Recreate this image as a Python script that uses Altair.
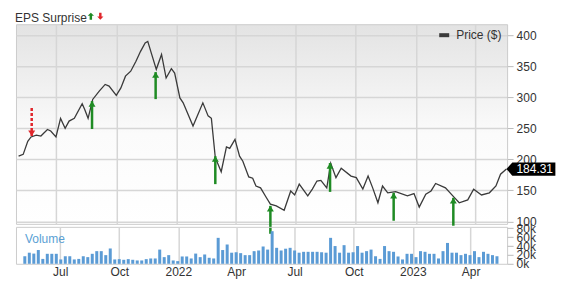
import altair as alt
import pandas as pd

# ---------------- data ----------------
price_dates = [
    "2021-05-05", "2021-05-12", "2021-05-19", "2021-05-24", "2021-06-01", "2021-06-08", "2021-06-18", "2021-06-23", "2021-07-01", "2021-07-08",
    "2021-07-15", "2021-07-21", "2021-07-29", "2021-08-10", "2021-08-14", "2021-08-19", "2021-08-26", "2021-09-05", "2021-09-14", "2021-09-20",
    "2021-10-01", "2021-10-08", "2021-10-15", "2021-10-23", "2021-10-31", "2021-11-07", "2021-11-14", "2021-11-18", "2021-11-24", "2021-12-01",
    "2021-12-09", "2021-12-16", "2021-12-24", "2021-12-29", "2022-01-06", "2022-01-11", "2022-01-26", "2022-02-10", "2022-02-18", "2022-02-23",
    "2022-03-01", "2022-03-10", "2022-03-18", "2022-03-23", "2022-03-31", "2022-04-07", "2022-04-12", "2022-04-21", "2022-04-27", "2022-05-02",
    "2022-05-09", "2022-05-18", "2022-05-24", "2022-06-02", "2022-06-14", "2022-06-24", "2022-06-30", "2022-07-07", "2022-07-20", "2022-07-27",
    "2022-08-03", "2022-08-09", "2022-08-18", "2022-08-24", "2022-09-01", "2022-09-09", "2022-09-24", "2022-10-02", "2022-10-12", "2022-10-20",
    "2022-10-27", "2022-11-04", "2022-11-11", "2022-11-19", "2022-12-01", "2022-12-19", "2022-12-29", "2023-01-06", "2023-01-16", "2023-01-24",
    "2023-01-31", "2023-02-15", "2023-02-28", "2023-03-08", "2023-03-21", "2023-03-30", "2023-04-11", "2023-04-23", "2023-05-03", "2023-05-10",
    "2023-05-19",
]
price_values = [
    205, 208, 229, 236, 239, 237.5, 248, 245.6, 236, 266,
    250, 261.6, 266, 289.5, 280, 266, 296.5, 310, 320.7, 318,
    303, 315, 334, 342, 358, 374, 387.6, 390, 369, 345,
    369, 331, 346, 339, 299, 291, 253.6, 291, 270, 266,
    202.6, 180, 220, 217.7, 232, 205, 197, 171.6, 169.5, 157,
    154, 138, 127.7, 125, 118, 149, 142.6, 160, 141, 152,
    165, 166, 154, 193.6, 170.5, 185.6, 173, 170.5, 152, 173,
    154, 130, 157, 146, 148, 141, 144.7, 123, 143.8, 149,
    161, 154, 139, 130, 134.6, 151.8, 142.6, 146, 157, 176,
    184.31,
]
series_name = "Price ($)"
header_text = "EPS Surprise"

volume_start = "2021-05-07"  # weekly bars
volumes = [
    17000, 25000, 23000, 31000, 11000, 22500, 22500, 22500, 9800, 17000,
    17000, 9800, 11000, 17000, 15000, 22500, 28500, 28500, 19500, 34500,
    9800, 10500, 9000, 10500, 9000, 7500, 7500, 10500, 12000, 12000,
    32000, 15000, 19500, 7500, 6000, 16500, 16500, 12000, 23000, 15000,
    21000, 13500, 12000, 58500, 31000, 43500, 25000, 26000, 24000, 19500,
    19500, 28500, 30000, 39000, 32000, 73500, 36000,
    30000, 34000, 36000, 30000, 25000, 27000, 27000, 27000, 27000, 26000,
    25000, 58500, 40000, 25000, 42000, 25000, 26000, 40000, 25000, 28500,
    32000, 17000, 11000, 40000, 28500, 27000, 16500, 9800, 22500, 22500,
    15000, 28500, 27000, 22500, 22500, 12000, 28500, 47000, 25000, 25000,
    19500, 22500, 19500, 28500, 15000, 27000, 22500, 19500, 17000,
]

eps_dates = ["2021-05-25", "2021-08-25", "2021-11-30", "2022-03-01", "2022-05-24", "2022-08-23", "2022-11-28", "2023-02-27"]
eps_kind = ["miss", "beat", "beat", "beat", "beat", "beat", "beat", "beat"]
eps_tail = [282.6, 248.8, 297, 160, 80, 147.5, 101, 93]
eps_tip = [237.5, 293.8, 340.5, 205, 125, 194, 146, 138]

price_ticks = [100, 150, 200, 250, 300, 350, 400]
volume_ticks = [0, 20000, 40000, 60000, 80000]
quarter_starts = [(2021, 7), (2021, 10), (2022, 1), (2022, 4), (2022, 7), (2022, 10), (2023, 1), (2023, 4)]

# ---------------- styles ----------------
GREEN = "#1f8b24"
RED = "#e0262b"
GRID = "#d6d6d6"
TXT = "#333333"
BAR = "#5b9bd5"
W, H_PRICE, H_VOL = 492, 200, 37

price_df = pd.DataFrame({"date": price_dates, "price": price_values, "series": series_name})
last_df = price_df.tail(1)
eps_df = pd.DataFrame({"date": eps_dates, "kind": eps_kind, "tail": eps_tail, "tip": eps_tip})
vol_df = pd.DataFrame({
    "date": pd.date_range(volume_start, periods=len(volumes), freq="7D").strftime("%Y-%m-%d"),
    "volume": volumes,
})
one_df = pd.DataFrame({"k": [0]})

x_scale = alt.Scale(
    type="utc",
    domain=[alt.DateTime(year=2021, month=5, date=1, utc=True),
            alt.DateTime(year=2023, month=5, date=20, utc=True)],
)
quarters = [alt.DateTime(year=y, month=m, date=1, utc=True) for y, m in quarter_starts]
y_price = alt.Scale(domain=[96, 417.7], nice=False, zero=False)

x_top_axis = alt.Axis(values=quarters, grid=True, labels=False, ticks=False,
                      domain=False, gridColor=GRID, gridWidth=1.5)
y_price_axis = alt.Axis(values=price_ticks, orient="right", grid=True, gridColor=GRID,
                        gridWidth=1.5, domain=False, tickColor="#bbbbbb", tickSize=6,
                        labelPadding=3, labelFontSize=12, labelColor=TXT, labelOverlap=False)


def xp():
    return alt.X("date:T", scale=x_scale, title=None, axis=x_top_axis)


def yp(field):
    return alt.Y(field, scale=y_price, title=None, axis=y_price_axis)


UP_HEAD = "M0,0 L-1,1.6 L1,1.6 Z"
DOWN_HEAD = "M0,0 L-1,-1.6 L1,-1.6 Z"
TAG = "M0,0 L0.24,-0.27 L2,-0.27 L2,0.27 L0.24,0.27 Z"
UP_ARROW = "M0,-1 L0.9,-0.1 L0.35,-0.1 L0.35,1 L-0.35,1 L-0.35,-0.1 L-0.9,-0.1 Z"
DOWN_ARROW = "M0,1 L0.9,0.1 L0.35,0.1 L0.35,-1 L-0.35,-1 L-0.35,0.1 L-0.9,0.1 Z"

line = alt.Chart(price_df).mark_line(strokeWidth=1.3).encode(
    x=xp(),
    y=yp("price:Q"),
    stroke=alt.Stroke(
        "series:N",
        scale=alt.Scale(range=["#3a3a3a"]),
        legend=alt.Legend(title=None, orient="none", legendX=422, legendY=4,
                          symbolType="stroke", symbolStrokeWidth=4, symbolSize=100,
                          labelFontSize=12, labelColor=TXT, labelOffset=5, padding=0),
    ),
)

beat = eps_df[eps_df["kind"] == "beat"]
miss = eps_df[eps_df["kind"] == "miss"]

beat_rule = alt.Chart(beat).mark_rule(color=GREEN, strokeWidth=2.5, clip=False).encode(
    x=xp(), y=yp("tail:Q"), y2="tip:Q")
beat_head = alt.Chart(beat).mark_point(shape=UP_HEAD, size=49, filled=True, color=GREEN,
                                       opacity=1, clip=False).encode(
    x=xp(), y=yp("tip:Q"))
miss_rule = alt.Chart(miss).mark_rule(color=RED, strokeWidth=2.5, strokeDash=[3, 2], clip=False).encode(
    x=xp(), y=yp("tail:Q"), y2="tip:Q")
miss_head = alt.Chart(miss).mark_point(shape=DOWN_HEAD, size=49, filled=True, color=RED,
                                       opacity=1, clip=False).encode(
    x=xp(), y=yp("tip:Q"))

tag = alt.Chart(last_df).mark_point(shape=TAG, size=2401, filled=True, color="#000000",
                                    opacity=1, clip=False).encode(
    x=xp(), y=yp("price:Q"))
tag_text = alt.Chart(last_df).mark_text(align="left", baseline="middle", dx=10, color="#ffffff",
                                        fontSize=12).encode(
    x=xp(), y=yp("price:Q"), text=alt.Text("price:Q", format=".2f"))

header = alt.Chart(one_df).mark_text(text=header_text, align="left", baseline="middle",
                                     fontSize=12, color=TXT).encode(
    x=alt.value(-1), y=alt.value(-6))
title_up = alt.Chart(one_df).mark_point(shape=UP_ARROW, size=49, filled=True, color=GREEN,
                                        opacity=1, clip=False).encode(x=alt.value(75), y=alt.value(-8))
title_down = alt.Chart(one_df).mark_point(shape=DOWN_ARROW, size=49, filled=True, color=RED,
                                          opacity=1, clip=False).encode(x=alt.value(84.5), y=alt.value(-8))

GRAD = ("{gradient: 'linear', x1: 0, y1: 0, x2: 0, y2: 1, stops: ["
        "{offset: 0, color: '#e3e3e3'}, {offset: 0.55, color: '#fbfbfb'}, {offset: 1, color: '#ffffff'}]}")

price_panel = alt.layer(
    line, beat_rule, beat_head, miss_rule, miss_head, tag, tag_text, header, title_up, title_down
).properties(
    width=W, height=H_PRICE,
    view=alt.ViewBackground(fill={"expr": GRAD}),
)

bars = alt.Chart(vol_df).mark_bar(width=3, color=BAR).encode(
    x=alt.X("date:T", scale=x_scale, title=None,
            axis=alt.Axis(values=quarters, grid=True, gridColor=GRID, gridWidth=1.5, ticks=False,
                          domain=False, labelFontSize=12, labelColor=TXT, labelPadding=3,
                          labelExpr="utcFormat(datum.value, '%m') == '01' ? utcFormat(datum.value, '%Y') : utcFormat(datum.value, '%b')")),
    y=alt.Y("volume:Q", scale=alt.Scale(domain=[0, 83300], nice=False), title=None,
            axis=alt.Axis(values=volume_ticks, format="~s", orient="right", grid=False,
                          domain=False, tickColor="#bbbbbb", tickSize=6, labelPadding=3,
                          labelFontSize=12, labelColor=TXT, labelOverlap=False)),
)
vol_label = alt.Chart(one_df).mark_text(text="Volume", align="left", baseline="middle",
                                        fontSize=12, color="#5a9fd4").encode(
    x=alt.value(9), y=alt.value(12))

vol_panel = alt.layer(bars, vol_label).properties(width=W, height=H_VOL)

chart = alt.vconcat(
    price_panel, vol_panel, spacing=3, bounds="flush",
    padding={"left": 14, "top": 11, "right": 5, "bottom": 5},
).configure(font="Liberation Sans").configure_view(stroke="#cccccc")

chart.save("out.html", embed_options={"renderer": "svg", "actions": False})
